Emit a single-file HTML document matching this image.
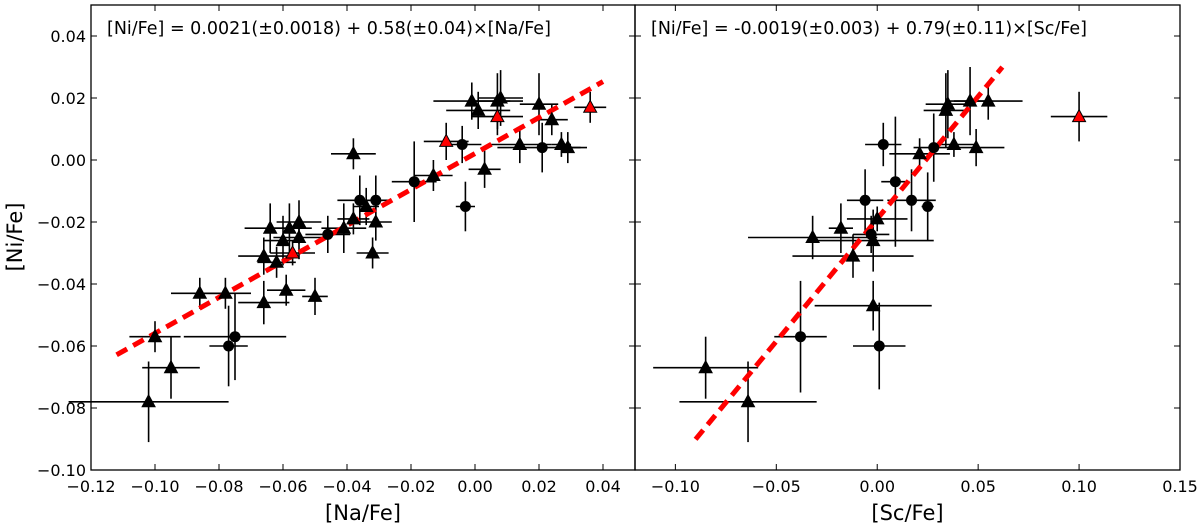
<!DOCTYPE html>
<html><head><meta charset="utf-8"><style>
html,body{margin:0;padding:0;background:#fff;}
svg{display:block;font-family:"DejaVu Sans","Liberation Sans",sans-serif;}
</style></head><body>
<svg id="chart" width="1200" height="525" viewBox="0 0 1200 525" xmlns="http://www.w3.org/2000/svg"></svg>
<script>
// Left panel data: [Na/Fe], [Ni/Fe], xerr, yerr, marker (t=triangle,c=circle,r=red triangle)
const naX=[-0.102,-0.095,-0.100,-0.086,-0.078,-0.077,-0.075,-0.066,-0.066,-0.062,-0.064,-0.058,-0.055,-0.060,-0.055,-0.057,-0.059,-0.050,-0.046,-0.041,-0.038,-0.038,-0.036,-0.034,-0.031,-0.031,-0.032,-0.019,-0.013,-0.009,-0.004,-0.003,0.003,-0.001,0.001,0.008,0.007,0.007,0.020,0.024,0.014,0.021,0.027,0.029,0.036];
const naY=[-0.078,-0.067,-0.057,-0.043,-0.043,-0.060,-0.057,-0.046,-0.031,-0.033,-0.022,-0.022,-0.020,-0.026,-0.025,-0.030,-0.042,-0.044,-0.024,-0.022,-0.019,0.002,-0.013,-0.015,-0.013,-0.020,-0.030,-0.007,-0.005,0.006,0.005,-0.015,-0.003,0.019,0.016,0.020,0.019,0.014,0.018,0.013,0.005,0.004,0.005,0.004,0.017];
const naXErr=[0.025,0.009,0.008,0.009,0.008,0.006,0.016,0.008,0.008,0.006,0.008,0.007,0.007,0.006,0.008,0.007,0.006,0.004,0.007,0.007,0.005,0.007,0.007,0.004,0.004,0.005,0.005,0.007,0.006,0.007,0.006,0.003,0.005,0.012,0.010,0.007,0.008,0.008,0.006,0.005,0.010,0.014,0.003,0.004,0.005];
const naYErr=[0.013,0.010,0.005,0.005,0.005,0.013,0.014,0.007,0.006,0.005,0.008,0.008,0.007,0.008,0.007,0.004,0.005,0.006,0.006,0.008,0.005,0.005,0.008,0.006,0.008,0.006,0.005,0.013,0.005,0.006,0.006,0.008,0.006,0.006,0.006,0.009,0.009,0.006,0.010,0.005,0.006,0.008,0.004,0.005,0.005];
const naMark=["t","t","t","t","t","c","c","t","t","t","t","t","t","t","t","r","t","t","c","t","t","t","c","t","c","t","t","c","t","r","c","c","t","t","t","t","t","r","t","t","t","c","t","t","r"];
const naFitX=[-0.112,0.040];
const naFit=[0.0021,0.58];
// Right panel data
const scX=[0.035,0.034,0.046,0.055,0.100,0.003,0.021,0.028,0.038,0.049,0.009,-0.006,0.017,0.025,0.000,-0.018,-0.003,-0.032,-0.002,-0.012,-0.002,-0.038,0.001,-0.085,-0.064];
const scY=[0.018,0.016,0.019,0.019,0.014,0.005,0.002,0.004,0.005,0.004,-0.007,-0.013,-0.013,-0.015,-0.019,-0.022,-0.024,-0.025,-0.026,-0.031,-0.047,-0.057,-0.060,-0.067,-0.078];
const scXErr=[0.011,0.011,0.011,0.017,0.014,0.009,0.015,0.010,0.010,0.014,0.007,0.009,0.012,0.003,0.015,0.006,0.009,0.032,0.030,0.030,0.029,0.013,0.013,0.026,0.034];
const scYErr=[0.011,0.012,0.011,0.006,0.008,0.007,0.005,0.011,0.004,0.006,0.021,0.010,0.010,0.011,0.004,0.008,0.006,0.007,0.010,0.007,0.008,0.018,0.014,0.010,0.013];
const scMark=["t","t","t","t","r","c","t","c","t","t","c","c","c","c","t","t","c","t","t","t","t","c","c","t","t"];
const scFitX=[-0.090,0.062];
const scFit=[-0.019,0.79];
const naTicks=["\u22120.12","\u22120.10","\u22120.08","\u22120.06","\u22120.04","\u22120.02","0.00","0.02","0.04"];
const naTickVals=[-0.12,-0.10,-0.08,-0.06,-0.04,-0.02,0.00,0.02,0.04];
const scTicks=["\u22120.10","\u22120.05","0.00","0.05","0.10","0.15"];
const scTickVals=[-0.10,-0.05,0.00,0.05,0.10,0.15];
const yTicks=["\u22120.10","\u22120.08","\u22120.06","\u22120.04","\u22120.02","0.00","0.02","0.04"];
const yTickVals=[-0.10,-0.08,-0.06,-0.04,-0.02,0.00,0.02,0.04];

const NS="http://www.w3.org/2000/svg";
const svg=document.getElementById('chart');
const T=5,B=470;
function yS(v){return B+(v+0.10)/(0.15)*(T-B);}
function mk(tag,attrs,parent){const e=document.createElementNS(NS,tag);for(const k in attrs)e.setAttribute(k,attrs[k]);(parent||svg).appendChild(e);return e;}

function panel(name,L,R,xmin,xmax,xs,ys,xe,ye,mks,fitX,fit,ticks,tickVals,xlabel,eq,showY){
  const xS=v=>L+(v-xmin)/(xmax-xmin)*(R-L);
  const g=mk('g',{});
  
  
  tickVals.forEach((v,i)=>{
    const x=xS(v);
    const t1=mk('line',{x1:x,x2:x,y1:B,y2:B-6,stroke:'#000','stroke-width':1},g);
    
    
    mk('line',{x1:x,x2:x,y1:T,y2:T+6,stroke:'#000','stroke-width':1},g);
    const tx=mk('text',{x:x,y:B+22,'font-size':16,'text-anchor':'middle'},g);
    tx.textContent=ticks[i];
    
    
  });
  yTickVals.forEach((v,i)=>{
    const y=yS(v);
    mk('line',{x1:L,x2:L+6,y1:y,y2:y,stroke:'#000','stroke-width':1},g);
    mk('line',{x1:R,x2:R-6,y1:y,y2:y,stroke:'#000','stroke-width':1},g);
    if(showY){
      const tx=mk('text',{x:L-5,y:y+6,'font-size':16,'text-anchor':'end'},g);
      tx.textContent=yTicks[i];
      
      
    }
  });
  xs.forEach((v,i)=>{
    const x=xS(v),y=yS(ys[i]);
    const eb=mk('g',{stroke:'#000','stroke-width':1.6},g);
    
    
    mk('line',{x1:xS(v-xe[i]),x2:xS(v+xe[i]),y1:y,y2:y},eb);
    mk('line',{x1:x,x2:x,y1:yS(ys[i]-ye[i]),y2:yS(ys[i]+ye[i])},eb);
  });
  const fl=mk('line',{x1:xS(fitX[0]),y1:yS(fit[0]+fit[1]*fitX[0]),x2:xS(fitX[1]),y2:yS(fit[0]+fit[1]*fitX[1]),stroke:'#ff0000','stroke-width':5,'stroke-dasharray':'12,7'},g);
  
  
  xs.forEach((v,i)=>{
    const x=xS(v),y=yS(ys[i]);
    let m;
    if(mks[i]==='c'){m=mk('circle',{cx:x,cy:y,r:5.5,fill:'#000'},g);}
    else{m=mk('polygon',{points:`${x},${y-7} ${x-6.5},${y+5} ${x+6.5},${y+5}`,fill:mks[i]==='r'?'#ff0000':'#000',stroke:'#000','stroke-width':1},g);}
    
    
  });
  const fr=mk('rect',{x:L,y:T,width:R-L,height:B-T,fill:'none',stroke:'#000','stroke-width':1.3},g);
  
  
  const xl=mk('text',{x:(L+R)/2,y:B+50,'font-size':21,'text-anchor':'middle'},g);
  xl.textContent=xlabel;
  
  
  const eqT=mk('text',{x:L+16,y:34,'font-size':17.5},g);
  eqT.textContent=eq;
  
  
}
panel('na-fe',91,635,-0.12,0.05,naX,naY,naXErr,naYErr,naMark,naFitX,naFit,naTicks,naTickVals,'[Na/Fe]','[Ni/Fe] = 0.0021(\u00b10.0018) + 0.58(\u00b10.04)\u00d7[Na/Fe]',true);
panel('sc-fe',635,1180,-0.12,0.15,scX,scY,scXErr,scYErr,scMark,scFitX,scFit,scTicks,scTickVals,'[Sc/Fe]','[Ni/Fe] = -0.0019(\u00b10.003) + 0.79(\u00b10.11)\u00d7[Sc/Fe]',false);
const yl=mk('text',{x:0,y:0,'font-size':21,'text-anchor':'middle',transform:'translate(22,237) rotate(-90)'});
yl.textContent='[Ni/Fe]';


</script>
</body></html>
